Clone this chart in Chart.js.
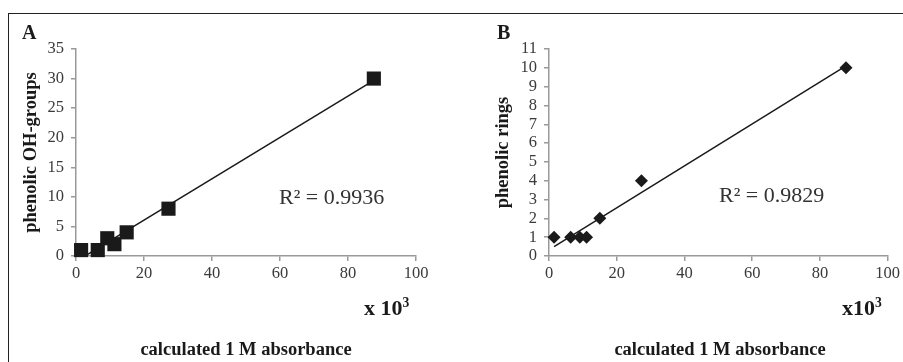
<!doctype html>
<html lang="en">

<head>
    <meta charset="utf-8">
    <title>Calculated 1 M absorbance vs phenolic groups</title>
    <style>
        html, body { margin: 0; padding: 0; background: #fff; }
        body { width: 903px; height: 362px; position: relative; overflow: hidden; font-family: 'Liberation Serif', 'Times New Roman', serif; color: #1a1a1a; }
        .frame { position: absolute; left: 8px; top: 13px; width: 900px; height: 360px; border-top: 1.5px solid #222; border-left: 1.5px solid #222; }
        canvas { position: absolute; top: 0; }
        #chartA { left: 0; }
        #chartB { left: 451px; }
        .lbl { position: absolute; line-height: 1; white-space: nowrap; }
        .panel { font-weight: bold; font-size: 20px; top: 22px; }
        .r2 { font-size: 22px; color: #333; }
        .mult { font-weight: bold; font-size: 22px; top: 296px; }
        .mult sup { font-size: 0.62em; vertical-align: 0.6em; }
        .xtitle { font-weight: bold; font-size: 18.5px; top: 340px; transform: translateX(-50%); }
    </style>
</head>

<body>
    <div class="frame"></div>

    <canvas id="chartA" width="451" height="362"></canvas>
    <canvas id="chartB" width="452" height="362"></canvas>

    <div class="lbl panel" style="left: 22px;">A</div>
    <div class="lbl panel" style="left: 497px;">B</div>

    <div class="lbl r2" style="left: 279px; top: 186px;">R² = 0.9936</div>
    <div class="lbl r2" style="left: 719px; top: 184px;">R² = 0.9829</div>

    <div class="lbl mult" style="left: 364px;">x 10<sup>3</sup></div>
    <div class="lbl mult" style="left: 842px;">x10<sup>3</sup></div>

    <div class="lbl xtitle" style="left: 246px;">calculated 1 M absorbance</div>
    <div class="lbl xtitle" style="left: 720px;">calculated 1 M absorbance</div>

    <script src="https://cdn.jsdelivr.net/npm/chart.js"></script>
    <script>
        // panel A: calculated 1 M absorbance (x 10^3) vs phenolic OH-groups
        const absorbanceA = [1.5, 6.4, 9.2, 11.3, 14.9, 27.2, 87.6];
        const ohGroups = [1, 1, 3, 2, 4, 8, 30];
        const trendXA = [1.5, 87.6];
        const trendYA = [-0.4, 29.7];

        // panel B: calculated 1 M absorbance (x 10^3) vs phenolic rings
        const absorbanceB = [1.5, 6.4, 9.1, 11.1, 15.0, 27.3, 87.7];
        const phenolicRings = [1, 1, 1, 1, 2, 4, 10];
        const trendXB = [1.5, 87.7];
        const trendYB = [0.5, 10.1];

        const xTicks = [0, 20, 40, 60, 80, 100];

        const AXIS = '#999';
        const INK = '#1a1a1a';

        function pairs(xs, ys) {
            return xs.map((x, i) => ({ x: x, y: ys[i] }));
        }

        function makeChart(id, cfg) {
            const ctx = document.getElementById(id).getContext('2d');
            return new Chart(ctx, {
                type: 'scatter',
                data: {
                    datasets: [{
                        label: 'data',
                        data: pairs(cfg.xs, cfg.ys),
                        pointStyle: cfg.marker,
                        pointRadius: cfg.radius,
                        pointHoverRadius: cfg.radius,
                        backgroundColor: INK,
                        borderColor: INK,
                        borderWidth: 0,
                        clip: false,
                        order: 0
                    }, {
                        label: 'trend',
                        type: 'line',
                        data: pairs(cfg.tx, cfg.ty),
                        borderColor: INK,
                        borderWidth: 1.5,
                        pointRadius: 0,
                        fill: false,
                        order: 1
                    }]
                },
                options: {
                    responsive: false,
                    animation: false,
                    devicePixelRatio: 1,
                    layout: {
                        padding: { left: 0, top: 49, right: cfg.padRight, bottom: 0 }
                    },
                    plugins: {
                        legend: { display: false },
                        tooltip: { enabled: false }
                    },
                    scales: {
                        x: {
                            type: 'linear',
                            min: 0,
                            max: 100,
                            afterBuildTicks: scale => { scale.ticks = xTicks.map(v => ({ value: v })); },
                            afterFit: scale => { scale.height = 106; },
                            grid: { drawOnChartArea: false, drawTicks: true, tickLength: 5, color: AXIS, lineWidth: 1.5 },
                            border: { color: AXIS, width: 1.5 },
                            ticks: { padding: 3, color: '#3a3a3a', font: { family: 'Liberation Serif', size: 16.5 } }
                        },
                        y: {
                            type: 'linear',
                            min: 0,
                            max: cfg.yMax,
                            afterFit: scale => { scale.width = cfg.axisLeft; },
                            grid: { drawOnChartArea: false, drawTicks: true, tickLength: 5, color: AXIS, lineWidth: 1.5 },
                            border: { color: AXIS, width: 1.5 },
                            ticks: { stepSize: cfg.yStep, autoSkip: false, padding: 7, color: '#3a3a3a', font: { family: 'Liberation Serif', size: 16.5 } },
                            title: {
                                display: true,
                                text: cfg.yTitle,
                                color: INK,
                                padding: { top: cfg.titlePad, bottom: 0 },
                                font: { family: 'Liberation Serif', size: 18.5, weight: 'bold' }
                            }
                        }
                    }
                }
            });
        }

        makeChart('chartA', {
            xs: absorbanceA, ys: ohGroups, tx: trendXA, ty: trendYA,
            marker: 'rect', radius: 10,
            yMax: 35, yStep: 5, yTitle: 'phenolic OH-groups',
            axisLeft: 76, padRight: 35, titlePad: 20
        });

        makeChart('chartB', {
            xs: absorbanceB, ys: phenolicRings, tx: trendXB, ty: trendYB,
            marker: 'rectRot', radius: 6.5,
            yMax: 11, yStep: 1, yTitle: 'phenolic rings',
            axisLeft: 98, padRight: 14, titlePad: 41
        });
    </script>
</body>

</html>
